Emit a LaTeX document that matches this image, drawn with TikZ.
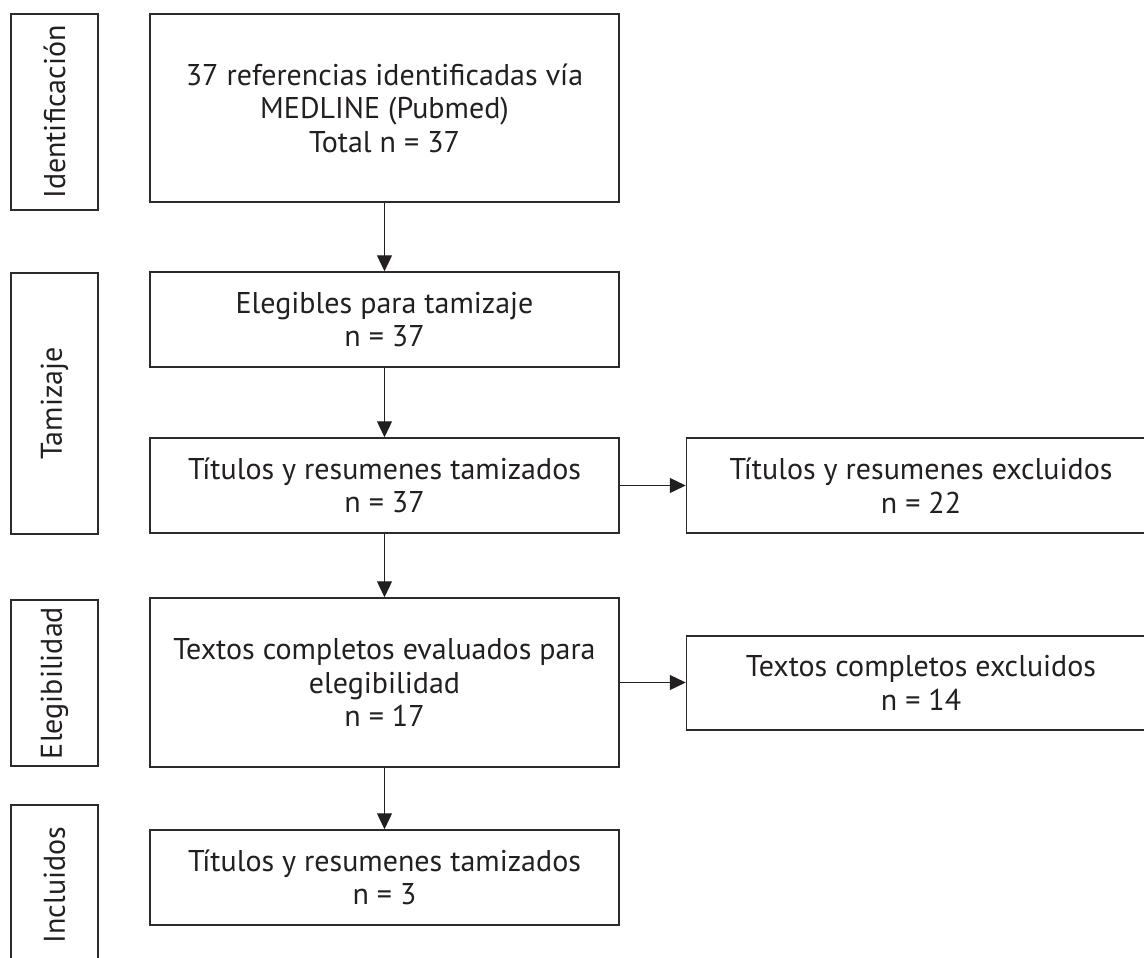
\documentclass[tikz,border=0pt]{standalone}
\usepackage{fontspec}
\setmainfont{PT Sans}
\usepackage{tikz}
\usetikzlibrary{arrows.meta}
\definecolor{ink}{HTML}{231F20}
\definecolor{edge}{HTML}{2B2B2B}
\tikzset{
  stagebox/.style={draw=edge, line width=0.75pt, rotate=90, minimum height=43.5pt, inner sep=0pt, text=ink},
  flowbox/.style={draw=edge, line width=0.75pt, minimum width=234.5pt, inner sep=0pt, align=center, text=ink},
  flowarrow/.style={draw=ink, line width=0.65pt, -{Triangle[length=8pt,width=7.5pt]}}
}

\begin{document}
\begin{tikzpicture}[x=0.5pt, y=-0.5pt, font=\fontsize{15}{16.75}\selectfont]
  \useasboundingbox (0,0) rectangle (1144,957);
  \clip (0,0) rectangle (1144,957);

  \node[stagebox, minimum width=98pt]    (ident) at (54.5,112)   {Identificación};
  \node[stagebox, minimum width=130.5pt] (tamiz) at (54.5,403.5) {Tamizaje};
  \node[stagebox, minimum width=83pt]    (elegi) at (54.5,683)   {Elegibilidad};
  \node[stagebox, minimum width=80pt]    (inclu) at (54.5,885)   {Incluidos};

  \node[flowbox, minimum height=94pt]   (b1) at (384.5,108)   {37 referencias identificadas vía\\MEDLINE (Pubmed)\\Total n = 37};
  \node[flowbox, minimum height=47.5pt] (b2) at (384.5,319.5) {Elegibles para tamizaje\\n = 37};
  \node[flowbox, minimum height=47.5pt] (b3) at (384.5,485.5) {Títulos y resumenes tamizados\\n = 37};
  \node[flowbox, minimum height=84.5pt] (b4) at (384.5,682.5) {Textos completos evaluados para\\elegibilidad\\n = 17};
  \node[flowbox, minimum height=47.5pt] (b5) at (384.5,877.5) {Títulos y resumenes tamizados\\n = 3};

  \node[flowbox, minimum height=47.5pt] (x1) at (921,485.5) {Títulos y resumenes excluidos\\n = 22};
  \node[flowbox, minimum height=47pt]   (x2) at (921,683)   {Textos completos excluidos\\n = 14};

  \draw[flowarrow] (b1) -- (b2);
  \draw[flowarrow] (b2) -- (b3);
  \draw[flowarrow] (b3) -- (b4);
  \draw[flowarrow] (b4) -- (b5);
  \draw[flowarrow] (b3.east) -- (b3.east -| x1.west);
  \draw[flowarrow] (b4.east) -- (b4.east -| x2.west);
\end{tikzpicture}
\end{document}
